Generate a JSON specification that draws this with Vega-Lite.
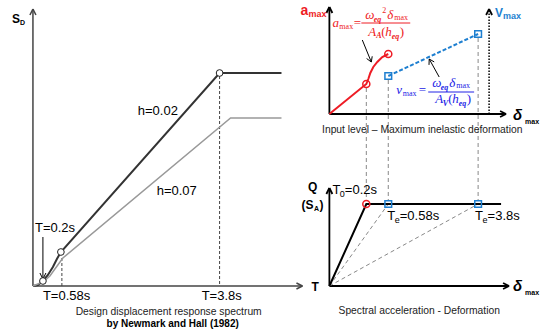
{
  "$schema": "https://vega.github.io/schema/vega-lite/v6.json",
  "width": 540,
  "height": 329,
  "autosize": {"type": "fit", "contains": "padding"},
  "padding": 0,
  "background": "white",
  "config": {"view": {"stroke": null}},
  "encoding": {
    "x": {"field": "x", "type": "quantitative", "scale": {"domain": [0, 540], "nice": false, "zero": false}, "axis": null},
    "y": {"field": "y", "type": "quantitative", "scale": {"domain": [0, 329], "nice": false, "zero": false, "reverse": true}, "axis": null}
  },
  "layer": [
    {
      "data": {"values": [
        {"x": 33, "y": 286, "x2": 33, "y2": 9},
        {"x": 33, "y": 286, "x2": 303, "y2": 286},
        {"x": 30, "y": 15, "x2": 33, "y2": 9},
        {"x": 36, "y": 15, "x2": 33, "y2": 9},
        {"x": 297, "y": 283, "x2": 303, "y2": 286},
        {"x": 297, "y": 289, "x2": 303, "y2": 286}
      ]},
      "mark": {"type": "rule", "color": "#444", "strokeWidth": 1.5},
      "encoding": {"x2": {"field": "x2"}, "y2": {"field": "y2"}}
    },
    {
      "data": {"values": [
        {"x": 330, "y": 114, "x2": 330, "y2": 7},
        {"x": 330, "y": 114, "x2": 507, "y2": 114},
        {"x": 327, "y": 13, "x2": 330, "y2": 7},
        {"x": 333, "y": 13, "x2": 330, "y2": 7},
        {"x": 501, "y": 111, "x2": 507, "y2": 114},
        {"x": 501, "y": 117, "x2": 507, "y2": 114},
        {"x": 330, "y": 286, "x2": 330, "y2": 188},
        {"x": 330, "y": 286, "x2": 510, "y2": 286},
        {"x": 327, "y": 194, "x2": 330, "y2": 188},
        {"x": 333, "y": 194, "x2": 330, "y2": 188},
        {"x": 504, "y": 283, "x2": 510, "y2": 286},
        {"x": 504, "y": 289, "x2": 510, "y2": 286},
        {"x": 487, "y": 15, "x2": 490, "y2": 9},
        {"x": 493, "y": 15, "x2": 490, "y2": 9}
      ]},
      "mark": {"type": "rule", "color": "#000", "strokeWidth": 1.8},
      "encoding": {"x2": {"field": "x2"}, "y2": {"field": "y2"}}
    },
    {
      "data": {"values": [
        {"x": 363, "y": 40, "x2": 372, "y2": 62},
        {"x": 372.9, "y": 56.3, "x2": 372, "y2": 62},
        {"x": 367.3, "y": 58.5, "x2": 372, "y2": 62},
        {"x": 440, "y": 77, "x2": 430, "y2": 59},
        {"x": 435, "y": 61.9, "x2": 430, "y2": 59},
        {"x": 429.8, "y": 64.9, "x2": 430, "y2": 59},
        {"x": 43, "y": 237, "x2": 43, "y2": 279},
        {"x": 40, "y": 273, "x2": 43, "y2": 279},
        {"x": 46, "y": 273, "x2": 43, "y2": 279}
      ]},
      "mark": {"type": "rule", "color": "#000", "strokeWidth": 1},
      "encoding": {"x2": {"field": "x2"}, "y2": {"field": "y2"}}
    },
    {
      "data": {"values": [{"x": 490, "y": 114, "x2": 490, "y2": 10}]},
      "mark": {"type": "rule", "color": "#000", "strokeWidth": 1.5, "strokeDash": [1.5, 1.5]},
      "encoding": {"x2": {"field": "x2"}, "y2": {"field": "y2"}}
    },
    {
      "data": {"values": [
        {"x": 62, "y": 258, "x2": 62, "y2": 286},
        {"x": 220, "y": 76, "x2": 220, "y2": 286}
      ]},
      "mark": {"type": "rule", "color": "#444", "strokeWidth": 1, "strokeDash": [3, 2]},
      "encoding": {"x2": {"field": "x2"}, "y2": {"field": "y2"}}
    },
    {
      "data": {"values": [
        {"x": 367, "y": 88, "x2": 367, "y2": 200},
        {"x": 389, "y": 80, "x2": 389, "y2": 200},
        {"x": 479, "y": 38, "x2": 479, "y2": 200},
        {"x": 330, "y": 286, "x2": 389, "y2": 204},
        {"x": 330, "y": 286, "x2": 479, "y2": 204}
      ]},
      "mark": {"type": "rule", "color": "#888", "strokeWidth": 1, "strokeDash": [4, 3]},
      "encoding": {"x2": {"field": "x2"}, "y2": {"field": "y2"}}
    },
    {
      "data": {"values": [{"x": 362, "y": 23, "x2": 411, "y2": 23}]},
      "mark": {"type": "rule", "color": "#ee1c25", "strokeWidth": 1},
      "encoding": {"x2": {"field": "x2"}, "y2": {"field": "y2"}}
    },
    {
      "data": {"values": [{"x": 429, "y": 92, "x2": 475, "y2": 92}]},
      "mark": {"type": "rule", "color": "#2323e6", "strokeWidth": 1},
      "encoding": {"x2": {"field": "x2"}, "y2": {"field": "y2"}}
    },
    {
      "data": {"values": [
        {"o": 1, "x": 33, "y": 286}, {"o": 2, "x": 38, "y": 285}, {"o": 3, "x": 43, "y": 281},
        {"o": 4, "x": 48, "y": 275}, {"o": 5, "x": 53, "y": 267}, {"o": 6, "x": 57, "y": 259},
        {"o": 7, "x": 61, "y": 252}, {"o": 8, "x": 220, "y": 73}, {"o": 9, "x": 282, "y": 73}
      ]},
      "mark": {"type": "line", "color": "#333", "strokeWidth": 2},
      "encoding": {"order": {"field": "o"}}
    },
    {
      "data": {"values": [
        {"o": 1, "x": 33, "y": 286}, {"o": 2, "x": 43, "y": 282}, {"o": 3, "x": 50, "y": 276},
        {"o": 4, "x": 55, "y": 269}, {"o": 5, "x": 63, "y": 258}, {"o": 6, "x": 231, "y": 118},
        {"o": 7, "x": 282, "y": 118}
      ]},
      "mark": {"type": "line", "color": "#999", "strokeWidth": 1.5},
      "encoding": {"order": {"field": "o"}}
    },
    {
      "data": {"values": [
        {"o": 1, "x": 330, "y": 114}, {"o": 2, "x": 367, "y": 84}, {"o": 3, "x": 369, "y": 79},
        {"o": 4, "x": 371, "y": 73}, {"o": 5, "x": 374, "y": 67}, {"o": 6, "x": 378, "y": 62},
        {"o": 7, "x": 383, "y": 57}, {"o": 8, "x": 389, "y": 54}
      ]},
      "mark": {"type": "line", "color": "#ee1c25", "strokeWidth": 2},
      "encoding": {"order": {"field": "o"}}
    },
    {
      "data": {"values": [{"o": 1, "x": 389, "y": 76}, {"o": 2, "x": 479, "y": 34}]},
      "mark": {"type": "line", "color": "#1e7fd0", "strokeWidth": 2, "strokeDash": [4, 2]},
      "encoding": {"order": {"field": "o"}}
    },
    {
      "data": {"values": [{"o": 1, "x": 330, "y": 286}, {"o": 2, "x": 367, "y": 204}, {"o": 3, "x": 502, "y": 204}]},
      "mark": {"type": "line", "color": "#000", "strokeWidth": 2},
      "encoding": {"order": {"field": "o"}}
    },
    {
      "data": {"values": [{"x": 43, "y": 281}, {"x": 61, "y": 252}, {"x": 220, "y": 73}]},
      "mark": {"type": "point", "shape": "circle", "filled": true, "fill": "white", "stroke": "#222", "strokeWidth": 1, "size": 45, "opacity": 1}
    },
    {
      "data": {"values": [{"x": 367, "y": 84}, {"x": 389, "y": 54}, {"x": 367, "y": 204}]},
      "mark": {"type": "point", "shape": "circle", "filled": false, "stroke": "#ee1c25", "strokeWidth": 1.5, "size": 50, "opacity": 1}
    },
    {
      "data": {"values": [{"x": 389, "y": 76}, {"x": 479, "y": 34}, {"x": 389, "y": 204}, {"x": 479, "y": 204}]},
      "mark": {"type": "point", "shape": "square", "filled": false, "stroke": "#1e7fd0", "strokeWidth": 1.5, "size": 45, "opacity": 1}
    },
    {
      "data": {"values": [
        {"x": 138, "y": 115, "t": "h=0.02"},
        {"x": 157, "y": 195, "t": "h=0.07"},
        {"x": 35, "y": 232, "t": "T=0.2s"},
        {"x": 43, "y": 300, "t": "T=0.58s"},
        {"x": 202, "y": 300, "t": "T=3.8s"},
        {"x": 333, "y": 194, "t": "T"},
        {"x": 345.5, "y": 194, "t": "=0.2s"},
        {"x": 388, "y": 220, "t": "T"},
        {"x": 400.5, "y": 220, "t": "=0.58s"},
        {"x": 476, "y": 220, "t": "T"},
        {"x": 488.5, "y": 220, "t": "=3.8s"}
      ]},
      "mark": {"type": "text", "font": "Liberation Sans", "fontSize": 13, "color": "#000", "align": "left", "baseline": "alphabetic"},
      "encoding": {"text": {"field": "t"}}
    },
    {
      "data": {"values": [
        {"x": 340.5, "y": 197, "t": "0"},
        {"x": 395.5, "y": 223, "t": "e"},
        {"x": 483.5, "y": 223, "t": "e"}
      ]},
      "mark": {"type": "text", "font": "Liberation Sans", "fontSize": 9, "color": "#000", "align": "left", "baseline": "alphabetic"},
      "encoding": {"text": {"field": "t"}}
    },
    {
      "data": {"values": [
        {"x": 169, "y": 315, "t": "Design displacement response spectrum"},
        {"x": 423, "y": 133, "t": "Input level – Maximum inelastic deformation"},
        {"x": 420, "y": 314, "t": "Spectral acceleration - Deformation"}
      ]},
      "mark": {"type": "text", "font": "Liberation Sans", "fontSize": 10.3, "color": "#222", "align": "center", "baseline": "alphabetic"},
      "encoding": {"text": {"field": "t"}}
    },
    {
      "data": {"values": [{"x": 173, "y": 327, "t": "by Newmark and Hall (1982)"}]},
      "mark": {"type": "text", "font": "Liberation Sans", "fontSize": 10, "fontWeight": "bold", "color": "#000", "align": "center", "baseline": "alphabetic"},
      "encoding": {"text": {"field": "t"}}
    },
    {
      "data": {"values": [
        {"x": 12, "y": 23, "t": "S"},
        {"x": 312, "y": 291, "t": "T"},
        {"x": 308.5, "y": 191, "t": "Q"},
        {"x": 302, "y": 209, "t": "(S"}
      ]},
      "mark": {"type": "text", "font": "Liberation Sans", "fontSize": 12, "fontWeight": "bold", "color": "#000", "align": "left", "baseline": "alphabetic"},
      "encoding": {"text": {"field": "t"}}
    },
    {
      "data": {"values": [
        {"x": 320, "y": 209, "t": ")"}
      ]},
      "mark": {"type": "text", "font": "Liberation Sans", "fontSize": 12, "fontWeight": "bold", "color": "#000", "align": "left", "baseline": "alphabetic"},
      "encoding": {"text": {"field": "t"}}
    },
    {
      "data": {"values": [
        {"x": 20, "y": 25, "t": "D"},
        {"x": 314.5, "y": 211, "t": "A"},
        {"x": 526, "y": 124, "t": "max"},
        {"x": 526, "y": 295, "t": "max"}
      ]},
      "mark": {"type": "text", "font": "Liberation Sans", "fontSize": 7, "fontWeight": "bold", "color": "#000", "align": "left", "baseline": "alphabetic"},
      "encoding": {"text": {"field": "t"}}
    },
    {
      "data": {"values": [{"x": 514, "y": 120, "t": "δ"}, {"x": 514, "y": 291, "t": "δ"}]},
      "mark": {"type": "text", "font": "Liberation Sans", "fontSize": 15, "fontWeight": "bold", "fontStyle": "italic", "color": "#000", "align": "left", "baseline": "alphabetic"},
      "encoding": {"text": {"field": "t"}}
    },
    {
      "data": {"values": [{"x": 301, "y": 15, "t": "a"}]},
      "mark": {"type": "text", "font": "Liberation Sans", "fontSize": 14, "fontWeight": "bold", "color": "#ee1c25", "align": "left", "baseline": "alphabetic"},
      "encoding": {"text": {"field": "t"}}
    },
    {
      "data": {"values": [{"x": 309, "y": 17, "t": "max"}]},
      "mark": {"type": "text", "font": "Liberation Sans", "fontSize": 9, "fontWeight": "bold", "color": "#ee1c25", "align": "left", "baseline": "alphabetic"},
      "encoding": {"text": {"field": "t"}}
    },
    {
      "data": {"values": [{"x": 496, "y": 17, "t": "V"}]},
      "mark": {"type": "text", "font": "Liberation Sans", "fontSize": 12, "fontWeight": "bold", "color": "#1e7fd0", "align": "left", "baseline": "alphabetic"},
      "encoding": {"text": {"field": "t"}}
    },
    {
      "data": {"values": [{"x": 504, "y": 19, "t": "max"}]},
      "mark": {"type": "text", "font": "Liberation Sans", "fontSize": 9, "fontWeight": "bold", "color": "#1e7fd0", "align": "left", "baseline": "alphabetic"},
      "encoding": {"text": {"field": "t"}}
    },
    {
      "data": {"values": [
        {"x": 333, "y": 27, "t": "a"},
        {"x": 366, "y": 19, "t": "ω"},
        {"x": 388, "y": 19, "t": "δ"},
        {"x": 369, "y": 36, "t": "A"},
        {"x": 386, "y": 36, "t": "h"}
      ]},
      "mark": {"type": "text", "font": "Liberation Serif", "fontSize": 13, "fontStyle": "italic", "color": "#ee1c25", "align": "left", "baseline": "alphabetic"},
      "encoding": {"text": {"field": "t"}}
    },
    {
      "data": {"values": [
        {"x": 374.5, "y": 22, "t": "eq"},
        {"x": 377, "y": 38, "t": "A"},
        {"x": 392.5, "y": 39, "t": "eq"}
      ]},
      "mark": {"type": "text", "font": "Liberation Serif", "fontSize": 8, "fontStyle": "italic", "fontWeight": "bold", "color": "#ee1c25", "align": "left", "baseline": "alphabetic"},
      "encoding": {"text": {"field": "t"}}
    },
    {
      "data": {"values": [
        {"x": 340, "y": 29, "t": "max"},
        {"x": 395, "y": 20, "t": "max"},
        {"x": 383, "y": 13, "t": "2"}
      ]},
      "mark": {"type": "text", "font": "Liberation Serif", "fontSize": 8, "color": "#ee1c25", "align": "left", "baseline": "alphabetic"},
      "encoding": {"text": {"field": "t"}}
    },
    {
      "data": {"values": [
        {"x": 354.5, "y": 27, "t": "="},
        {"x": 382, "y": 36, "t": "("},
        {"x": 400.5, "y": 36, "t": ")"}
      ]},
      "mark": {"type": "text", "font": "Liberation Serif", "fontSize": 13, "color": "#ee1c25", "align": "left", "baseline": "alphabetic"},
      "encoding": {"text": {"field": "t"}}
    },
    {
      "data": {"values": [
        {"x": 397, "y": 94, "t": "v"},
        {"x": 433, "y": 87, "t": "ω"},
        {"x": 450, "y": 87, "t": "δ"},
        {"x": 436, "y": 103, "t": "A"},
        {"x": 453, "y": 103, "t": "h"}
      ]},
      "mark": {"type": "text", "font": "Liberation Serif", "fontSize": 13, "fontStyle": "italic", "color": "#2323e6", "align": "left", "baseline": "alphabetic"},
      "encoding": {"text": {"field": "t"}}
    },
    {
      "data": {"values": [
        {"x": 441.5, "y": 90, "t": "eq"},
        {"x": 443.5, "y": 106, "t": "V"},
        {"x": 459.5, "y": 106, "t": "eq"}
      ]},
      "mark": {"type": "text", "font": "Liberation Serif", "fontSize": 8, "fontStyle": "italic", "fontWeight": "bold", "color": "#2323e6", "align": "left", "baseline": "alphabetic"},
      "encoding": {"text": {"field": "t"}}
    },
    {
      "data": {"values": [
        {"x": 403.5, "y": 96, "t": "max"},
        {"x": 457, "y": 88, "t": "max"}
      ]},
      "mark": {"type": "text", "font": "Liberation Serif", "fontSize": 8, "color": "#2323e6", "align": "left", "baseline": "alphabetic"},
      "encoding": {"text": {"field": "t"}}
    },
    {
      "data": {"values": [
        {"x": 419.5, "y": 94, "t": "="},
        {"x": 449, "y": 103, "t": "("},
        {"x": 467.5, "y": 103, "t": ")"}
      ]},
      "mark": {"type": "text", "font": "Liberation Serif", "fontSize": 13, "color": "#2323e6", "align": "left", "baseline": "alphabetic"},
      "encoding": {"text": {"field": "t"}}
    }
  ]
}
